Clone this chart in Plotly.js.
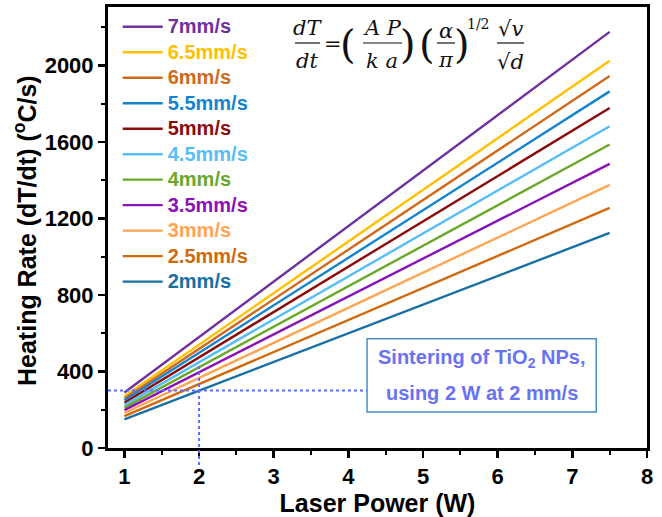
<!DOCTYPE html>
<html>
<head>
<meta charset="utf-8">
<script src="https://cdn.plot.ly/plotly-3.0.1.min.js"></script>
<style>html,body{margin:0;padding:0;background:#fff;}#chart{width:662px;height:517px;}</style>
</head>
<body>
<div id="chart"></div>
<script>
// ---- data ----
const laserPower = [1, 7.5];
const speeds = ["7mm/s", "6.5mm/s", "6mm/s", "5.5mm/s", "5mm/s", "4.5mm/s", "4mm/s", "3.5mm/s", "3mm/s", "2.5mm/s", "2mm/s"];
const rate7 = [290, 2175];
const rate6_5 = [270, 2024];
const rate6 = [259, 1944];
const rate5_5 = [249, 1864];
const rate5 = [237, 1777];
const rate4_5 = [224, 1682];
const rate4 = [211, 1586];
const rate3_5 = [198, 1485];
const rate3 = [183, 1375];
const rate2_5 = [167, 1255];
const rate2 = [150, 1124];
const seriesValues = [rate7, rate6_5, rate6, rate5_5, rate5, rate4_5, rate4, rate3_5, rate3, rate2_5, rate2];
const colors = ["#7030A0", "#FFC000", "#CF6A1C", "#1584CF", "#8B0A0A", "#56BEF5", "#6AA82A", "#8A12B5", "#FFA552", "#D0690C", "#176FA3"];
const xTicks = [1, 2, 3, 4, 5, 6, 7, 8];
const yTicks = [0, 400, 800, 1200, 1600, 2000];
// marked operating point
const markPower = 2;
const markRate = 300;

// ---- geometry helpers (plot area pixels -> paper) ----
const L = 108, R = 647, T = 7, B = 448;
const px = x => (x - L) / (R - L);
const py = y => (B - y) / (B - T);

const FONT = "Liberation Sans, Arial, sans-serif";
const MATH = "DejaVu Serif, serif";

const traces = speeds.map((s, i) => ({
  x: laserPower,
  y: seriesValues[i],
  type: "scatter",
  mode: "lines",
  name: `<span style="font-size:20px;color:${colors[i]}">${s}</span>`,
  line: {color: colors[i], width: 2.4},
  hoverinfo: "x+y"
}));

const ann = [];
const shapes = [];
function txt(x, y, t, size, opts) {
  ann.push(Object.assign({
    xref: "paper", yref: "paper", x: px(x), y: py(y), text: t, showarrow: false,
    xanchor: "center", yanchor: "middle",
    font: {family: MATH, size: size, color: "#111", style: "italic"}
  }, opts || {}));
}
function bar(x0, x1, y) {
  shapes.push({type: "line", xref: "paper", yref: "paper", x0: px(x0), x1: px(x1), y0: py(y), y1: py(y),
    line: {color: "#111", width: 1.2}});
}
// equation
txt(307, 28, "dT", 21);
bar(295, 320, 43);
txt(307, 61, "dt", 21);
txt(333, 44, "=", 21, {font: {family: MATH, size: 21, color: "#111"}});
txt(348, 44, "(", 40, {font: {family: MATH, size: 40, color: "#111"}});
txt(382, 28, "A P", 21);
bar(363, 402, 43);
txt(382, 61, "k a", 21);
txt(408, 44, ")", 40, {font: {family: MATH, size: 40, color: "#111"}});
txt(427, 44, "(", 40, {font: {family: MATH, size: 40, color: "#111"}});
txt(446, 31, "α", 21);
bar(437, 455, 43);
txt(446, 60, "π", 21);
txt(462, 44, ")", 40, {font: {family: MATH, size: 40, color: "#111"}});
txt(478, 24, "1/2", 14, {font: {family: MATH, size: 14, color: "#111"}});
txt(510, 29, "√<i>v</i>", 21, {font: {family: MATH, size: 21, color: "#111"}});
bar(497, 524, 43);
txt(510, 62, "√<i>d</i>", 21, {font: {family: MATH, size: 21, color: "#111"}});

// y axis title (placed as annotation for exact position)
ann.push({xref: "paper", yref: "paper", x: px(25), y: py(231), textangle: -90, showarrow: false,
  xanchor: "center", yanchor: "middle", text: "Heating Rate (dT/dt) (<sup>o</sup>C/s)",
  font: {family: FONT, size: 25, weight: "bold", color: "#000"}});

// annotation box
shapes.push({type: "rect", xref: "x", yref: "y", x0: 4.25, x1: 7.32, y0: 188, y1: 571,
  line: {color: "#4A8FC4", width: 1.5}, fillcolor: "#ffffff", layer: "above"});
ann.push({xref: "x", yref: "y", x: 5.785, y: 470, text: "Sintering of TiO<sub>2</sub> NPs,", showarrow: false,
  xanchor: "center", yanchor: "middle", font: {family: FONT, size: 20, color: "#6A72F2", weight: "bold"}});
ann.push({xref: "x", yref: "y", x: 5.785, y: 288, text: "using 2 W at 2 mm/s", showarrow: false,
  xanchor: "center", yanchor: "middle", font: {family: FONT, size: 20, color: "#6A72F2", weight: "bold"}});

// dotted guide lines
shapes.push({type: "line", xref: "x", yref: "y", x0: 0.78, x1: 4.25, y0: markRate, y1: markRate,
  line: {color: "#5B6CFF", width: 2, dash: "dot"}});
shapes.push({type: "line", xref: "x", yref: "paper", x0: markPower, x1: markPower, y0: py(465), y1: py(365),
  line: {color: "#5B6CFF", width: 2, dash: "dot"}});

const layout = {
  width: 662, height: 517,
  margin: {l: L, r: 662 - R, t: T, b: 517 - B},
  paper_bgcolor: "#fff", plot_bgcolor: "#fff",
  showlegend: true,
  legend: {x: 0.018, y: 0.9955, xanchor: "left", yanchor: "top", bgcolor: "rgba(0,0,0,0)",
    font: {family: FONT, size: 17.3, weight: "bold"}, itemwidth: 40, tracegroupgap: 0},
  xaxis: {
    range: [0.78, 8], tickvals: xTicks, ticktext: xTicks.map(String),
    showgrid: false, zeroline: false, showline: true, linewidth: 3, linecolor: "#000", mirror: true,
    ticks: "outside", ticklen: 7, tickwidth: 2.5, tickcolor: "#000",
    minor: {ticks: "outside", ticklen: 4, tickwidth: 2, tickcolor: "#000", dtick: 0.5, showgrid: false},
    tickfont: {family: FONT, size: 22, weight: "bold", color: "#000"},
    title: {text: "Laser Power (W)", font: {family: FONT, size: 25, weight: "bold", color: "#000"}, standoff: 3}
  },
  yaxis: {
    range: [0, 2305], tickvals: yTicks, ticktext: yTicks.map(String),
    showgrid: false, zeroline: false, showline: true, linewidth: 3, linecolor: "#000", mirror: true,
    ticks: "outside", ticklen: 7, tickwidth: 2.5, tickcolor: "#000",
    minor: {ticks: "outside", ticklen: 4, tickwidth: 2, tickcolor: "#000", dtick: 200, showgrid: false},
    tickfont: {family: FONT, size: 22, weight: "bold", color: "#000"}
  },
  annotations: ann,
  shapes: shapes
};

Plotly.newPlot("chart", traces, layout, {staticPlot: true, displayModeBar: false});
</script>
</body>
</html>
